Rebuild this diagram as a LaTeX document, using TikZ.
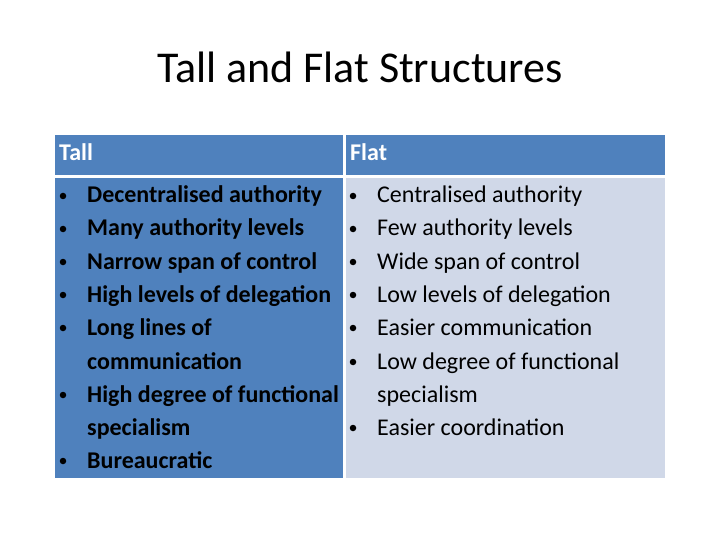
\documentclass[tikz,border=0pt]{standalone}
\usepackage{fontspec}
\setmainfont{Carlito}
\definecolor{hdr}{HTML}{4F81BD}
\definecolor{lbody}{HTML}{4F81BD}
\definecolor{rbody}{HTML}{D0D8E8}
\begin{document}
\begin{tikzpicture}[x=1pt,y=-1pt,
  txt/.style={anchor=base west,inner sep=0,font=\fontsize{24}{28}\selectfont},
  bul/.style={circle,fill=black,inner sep=0,minimum size=6.5pt}]
\useasboundingbox (0,0) rectangle (720,540);
\node[font=\fontsize{44}{50}\selectfont] (title) at (360,67) {Tall and Flat Structures};
\fill[hdr] (55,135) rectangle (343,175);
\fill[hdr] (346,135) rectangle (665,175);
\fill[lbody] (55,178) rectangle (343,478);
\fill[rbody] (346,178) rectangle (665,478);
\node[txt,text=white,font=\fontsize{24}{28}\bfseries\selectfont] (ht) at (59,161) {Tall};
\node[txt,text=white,font=\fontsize{24}{28}\bfseries\selectfont] (hf) at (350,161) {Flat};
\foreach \t/\y/\b in {Decentralised authority/203/1,Many authority levels/236/1,Narrow span of control/269/1,High levels of delegation/302/1,Long lines of/335/1,communication/369/0,High degree of functional/402/1,specialism/435/0,Bureaucratic/468/1}{
  \node[txt,font=\fontsize{24}{28}\bfseries\selectfont] at (87,\y) {\t};
  \ifnum\b=1 \node[bul] at (63,\y-7) {};\fi
}
\foreach \t/\y/\b in {Centralised authority/203/1,Few authority levels/236/1,Wide span of control/269/1,Low levels of delegation/302/1,Easier communication/335/1,Low degree of functional/369/1,specialism/402/0,Easier coordination/435/1}{
  \node[txt] at (377,\y) {\t};
  \ifnum\b=1 \node[bul] at (353,\y-7) {};\fi
}
\end{tikzpicture}
\end{document}
